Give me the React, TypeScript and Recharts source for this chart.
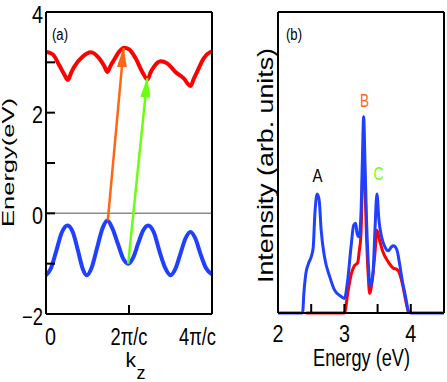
import React from "react";
import { LineChart, Line, XAxis, YAxis, ReferenceLine } from "recharts";

// ---- panel (a): bands along kz (k in units of pi/c) ----
const condK = [0, 0.16, 0.32, 0.44, 0.53, 0.6, 0.68, 0.88, 1.08, 1.28, 1.4, 1.48, 1.56, 1.64, 1.76, 1.88, 2.0, 2.16, 2.32, 2.45, 2.52, 2.6, 2.76, 2.92, 3.12, 3.32, 3.48, 3.56, 3.64, 3.8, 3.97, 4.0];
const condE = [3.21, 3.16, 2.94, 2.76, 2.65, 2.78, 2.91, 3.11, 3.2, 3.08, 2.93, 2.81, 2.94, 3.05, 3.21, 3.29, 3.26, 3.08, 2.81, 2.66, 2.8, 2.91, 3.02, 2.98, 2.81, 2.68, 2.53, 2.67, 2.81, 3.08, 3.21, 3.22];

const valK = [0, 0.12, 0.25, 0.38, 0.52, 0.65, 0.77, 0.88, 0.98, 1.1, 1.23, 1.36, 1.48, 1.6, 1.73, 1.86, 1.98, 2.1, 2.22, 2.34, 2.46, 2.6, 2.73, 2.87, 3.0, 3.12, 3.24, 3.36, 3.48, 3.6, 3.72, 3.85, 4.0];
const valE = [-1.23, -1.09, -0.74, -0.38, -0.24, -0.38, -0.74, -1.09, -1.23, -1.08, -0.69, -0.3, -0.14, -0.3, -0.6, -0.9, -1.0, -0.88, -0.6, -0.34, -0.24, -0.38, -0.74, -1.08, -1.23, -1.1, -0.8, -0.5, -0.37, -0.5, -0.8, -1.08, -1.21];

// transitions (start -> end)
const orangeK = [1.49, 1.87];
const orangeE = [-0.14, 3.28];
const greenK = [1.98, 2.44];
const greenE = [-1.0, 2.68];

const kTicks = [0, 2, 4];
const kLabels = ["0", "2π/c", "4π/c"];
const eTicks = [-2, -1, 0, 1, 2, 3, 4];

// ---- panel (b): spectra ----
const blueX = [2.0, 2.37, 2.39, 2.42, 2.46, 2.5, 2.53, 2.556, 2.59, 2.62, 2.65, 2.7, 2.78, 2.85, 2.95, 3.0, 3.05, 3.1, 3.14, 3.17, 3.19, 3.22, 3.25, 3.27, 3.29, 3.31, 3.33, 3.36, 3.39, 3.43, 3.46, 3.49, 3.52, 3.56, 3.61, 3.66, 3.71, 3.74, 3.79, 3.83, 3.87, 3.92, 3.97, 4.0, 4.5];
const blueY = [0, 0, 0.4, 0.79, 0.99, 1.12, 1.3, 1.99, 2.37, 2.25, 1.65, 1.12, 0.72, 0.46, 0.33, 0.29, 0.66, 1.32, 1.75, 1.79, 1.59, 1.52, 1.99, 3.0, 3.91, 3.0, 1.99, 0.99, 0.52, 0.79, 1.65, 2.37, 1.85, 1.52, 1.32, 1.24, 1.32, 1.34, 1.26, 0.99, 0.66, 0.33, 0.02, 0, 0];

const redX = [2.42, 3.0, 3.05, 3.1, 3.15, 3.2, 3.22, 3.25, 3.27, 3.29, 3.31, 3.33, 3.36, 3.38, 3.42, 3.46, 3.49, 3.53, 3.58, 3.66, 3.74, 3.79, 3.83, 3.87, 3.92, 3.96];
const redY = [0, 0, 0.39, 0.76, 0.94, 1.0, 1.19, 1.58, 2.6, 3.3, 2.6, 1.65, 0.72, 0.39, 0.66, 1.19, 1.65, 1.45, 1.22, 1.02, 0.89, 0.87, 0.79, 0.6, 0.27, 0.02];

const energyTicks = [2, 2.5, 3, 3.5, 4, 4.5];
const intTicks = [0, 1, 2, 3, 4, 5, 6];

const FONT = "'Liberation Sans', Arial, sans-serif";
const RED = "#ff0000";
const BLUE = "#2040ff";
const ORANGE = "#ff6614";
const GREEN = "#6aff10";

const rows = (xs: number[], ys: number[]) => xs.map((x, i) => ({ x, y: ys[i] }));

// the original lettering is tall and narrow, so squeeze each label to its width
const Narrow = ({ x, y, w, anchor = "middle", size = 23, children }: any) => (
  <text x={x} y={y} textAnchor={anchor} fontSize={size} fontFamily={FONT} fill="#000"
    textLength={w} lengthAdjust="spacingAndGlyphs">
    {children}
  </text>
);

const EnergyTick = ({ x, y, payload }: any) => {
  if (payload.value % 2 !== 0) return <g />;
  const v = payload.value;
  const label = v < 0 ? `\u2212${Math.abs(v)}` : String(v);
  return <Narrow x={x} y={y + 10.5} w={v < 0 ? 21 : 11} anchor="end">{label}</Narrow>;
};

const KTick = ({ x, y, payload }: any) => {
  const i = kTicks.indexOf(payload.value);
  if (i === 0) return <Narrow x={x - 1} y={y} w={11} anchor="start">{kLabels[i]}</Narrow>;
  if (i === 2) return <Narrow x={x - 14.5} y={y} w={37}>{kLabels[i]}</Narrow>;
  return <Narrow x={x} y={y} w={37}>{kLabels[i]}</Narrow>;
};

const EvTick = ({ x, y, payload }: any) => {
  if (!Number.isInteger(payload.value)) return <g />;
  return <Narrow x={x} y={y} w={11}>{payload.value}</Narrow>;
};

const axisStyle = { stroke: "#000", strokeWidth: 2 };

export default function App() {
  return (
    <div style={{ position: "absolute", left: 0, top: 0, width: 447, height: 382, background: "#fff" }}>
      <div style={{ position: "absolute", left: 0, top: 0 }}>
        <LineChart width={226} height={382} margin={{ top: 12, right: 14, bottom: 0, left: 0 }}>
          <defs>
            <marker id="headOrange" markerUnits="userSpaceOnUse" markerWidth={20} markerHeight={10} refX={19} refY={5} orient="auto">
              <path d="M0,0 L20,5 L0,10 Z" fill={ORANGE} />
            </marker>
            <marker id="headGreen" markerUnits="userSpaceOnUse" markerWidth={20} markerHeight={10} refX={19} refY={5} orient="auto">
              <path d="M0,0 L20,5 L0,10 Z" fill={GREEN} />
            </marker>
          </defs>
          <XAxis dataKey="x" type="number" domain={[0, 4]} ticks={kTicks} interval={0} height={68}
            tickSize={-9} tickMargin={40} tick={<KTick />} axisLine={axisStyle} tickLine={axisStyle} />
          <XAxis xAxisId="top" orientation="top" mirror dataKey="x" type="number" domain={[0, 4]} allowDataOverflow
            ticks={kTicks} interval={0} tickSize={9} tick={false} axisLine={axisStyle} tickLine={axisStyle} />
          <YAxis type="number" domain={[-2, 4]} ticks={eTicks} interval={0} width={46}
            tickSize={-9} tickMargin={12} tick={<EnergyTick />} axisLine={axisStyle} tickLine={axisStyle} />
          <YAxis yAxisId="right" orientation="right" mirror type="number" domain={[-2, 4]} allowDataOverflow
            ticks={eTicks} interval={0} tickSize={9} tick={false} axisLine={axisStyle} tickLine={axisStyle} />
          <ReferenceLine y={0} stroke="#8c8c8c" strokeWidth={1.5} />
          <Line data={rows(valK, valE)} dataKey="y" type="monotone" stroke={BLUE} strokeWidth={4} dot={false} isAnimationActive={false} />
          <Line data={rows(condK, condE)} dataKey="y" type="monotone" stroke={RED} strokeWidth={4} dot={false} isAnimationActive={false} />
          <Line data={rows(orangeK, orangeE)} dataKey="y" type="linear" stroke={ORANGE} strokeWidth={2.5} dot={false}
            markerEnd="url(#headOrange)" isAnimationActive={false} />
          <Line data={rows(greenK, greenE)} dataKey="y" type="linear" stroke={GREEN} strokeWidth={2.5} dot={false}
            markerEnd="url(#headGreen)" isAnimationActive={false} />
        </LineChart>
      </div>

      <div style={{ position: "absolute", left: 220, top: 0 }}>
        <LineChart width={227} height={382} margin={{ top: 12, right: 3, bottom: 0, left: 0 }}>
          <XAxis dataKey="x" type="number" domain={[2, 4.5]} ticks={energyTicks} interval={0} height={69}
            tickSize={-9} tickMargin={38} tick={<EvTick />} axisLine={axisStyle} tickLine={axisStyle} />
          <XAxis xAxisId="top" orientation="top" mirror dataKey="x" type="number" domain={[2, 4.5]} allowDataOverflow
            ticks={energyTicks} interval={0} tickSize={9} tick={false} axisLine={axisStyle} tickLine={axisStyle} />
          <YAxis type="number" domain={[0, 6]} ticks={intTicks} interval={0} width={58}
            tickSize={-9} tick={false} axisLine={axisStyle} tickLine={axisStyle} />
          <YAxis yAxisId="right" orientation="right" mirror type="number" domain={[0, 6]} allowDataOverflow
            ticks={intTicks} interval={0} tickSize={9} tick={false} axisLine={axisStyle} tickLine={axisStyle} />
          <Line data={rows(redX, redY)} dataKey="y" type="monotone" stroke={RED} strokeWidth={3} dot={false} isAnimationActive={false} />
          <Line data={rows(blueX, blueY)} dataKey="y" type="monotone" stroke={BLUE} strokeWidth={3} dot={false} isAnimationActive={false} />
        </LineChart>
      </div>

      <svg width={447} height={382} style={{ position: "absolute", left: 0, top: 0, pointerEvents: "none" }}>
        <g fontFamily={FONT} fill="#000">
          <text x={52} y={40} fontSize={16} textLength={16} lengthAdjust="spacingAndGlyphs">(a)</text>
          <text x={286} y={40} fontSize={16} textLength={16} lengthAdjust="spacingAndGlyphs">(b)</text>
          <text x={14} y={162.5} fontSize={17} textAnchor="middle" textLength={129} lengthAdjust="spacingAndGlyphs"
            transform="rotate(-90 14 162.5)">Energy(eV)</text>
          <text x={125.5} y={367} fontSize={21}>k</text>
          <text x={136.5} y={379} fontSize={18}>z</text>
          <text x={273} y={165.5} fontSize={22} textAnchor="middle" textLength={235} lengthAdjust="spacingAndGlyphs"
            transform="rotate(-90 273 165.5)">Intensity (arb. units)</text>
          <text x={361.5} y={366} fontSize={23} textAnchor="middle" textLength={97} lengthAdjust="spacingAndGlyphs">Energy (eV)</text>
          <text x={317.5} y={182} fontSize={19} textAnchor="middle" textLength={10} lengthAdjust="spacingAndGlyphs">A</text>
          <text x={364.5} y={107} fontSize={19} textAnchor="middle" fill={ORANGE} textLength={9} lengthAdjust="spacingAndGlyphs">B</text>
          <text x={378.5} y={180} fontSize={19} textAnchor="middle" fill={GREEN} textLength={10} lengthAdjust="spacingAndGlyphs">C</text>
        </g>
      </svg>
    </div>
  );
}
